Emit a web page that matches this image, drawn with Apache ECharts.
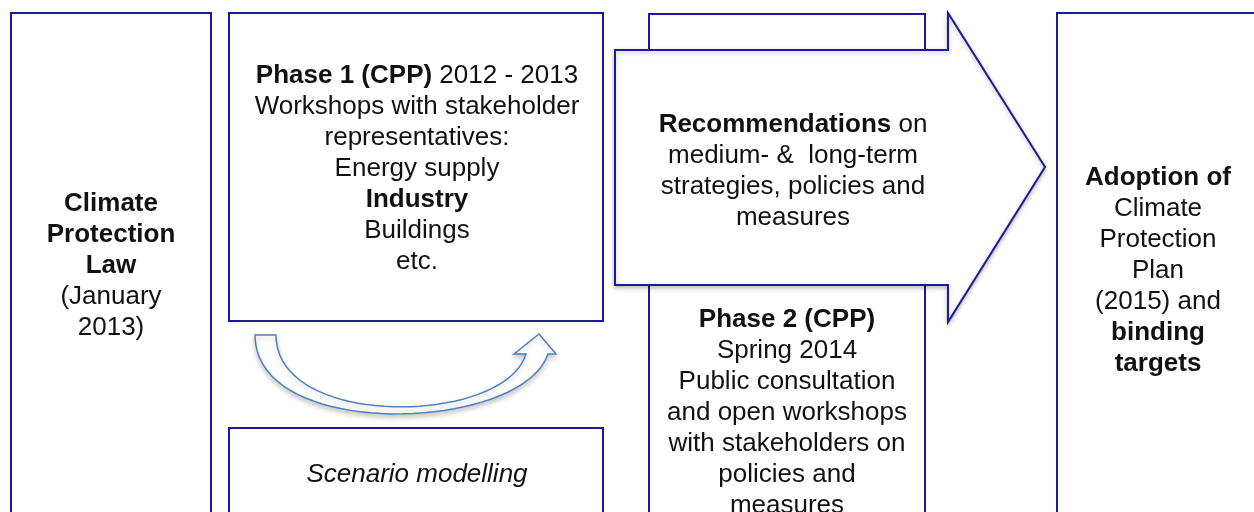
<!DOCTYPE html>
<html>
<head>
<meta charset="utf-8">
<script src="https://cdn.jsdelivr.net/npm/echarts@6/dist/echarts.min.js"></script>
<style>
  html, body { margin: 0; padding: 0; background: #fff; }
  #chart { width: 1254px; height: 512px; }
</style>
</head>
<body>
<div id="chart"></div>
<script>
// text of each block, {b|...} marks bold runs
const lawLines = ['{b|Climate}', '{b|Protection}', '{b|Law}', '(January', '2013)'];
const phase1Lines = ['{b|Phase 1 (CPP)} 2012 - 2013', 'Workshops with stakeholder', 'representatives:', 'Energy supply', '{b|Industry}', 'Buildings', 'etc.'];
const scenarioLines = ['Scenario modelling'];
const recommendLines = ['{b|Recommendations} on', 'medium- &  long-term', 'strategies, policies and', 'measures'];
const phase2Lines = ['{b|Phase 2 (CPP)}', 'Spring 2014', 'Public consultation', 'and open workshops', 'with stakeholders on', 'policies and', 'measures'];
const adoptionLines = ['{b|Adoption of}', 'Climate', 'Protection', 'Plan', '(2015) and', '{b|binding}', '{b|targets}'];

const chart = echarts.init(document.getElementById('chart'));

const navy = '#1a1a9a';
const font = 'Liberation Sans';

const box = (x, y, w, h) => ({
  type: 'rect',
  shape: { x: x, y: y, width: w, height: h },
  style: { fill: '#fff', stroke: navy, lineWidth: 2 },
});

const label = (lines, cx, cy, italic) => ({
  type: 'text',
  x: cx,
  y: cy,
  style: {
    text: lines.join('\n'),
    fontFamily: font,
    fontSize: 26,
    fontStyle: italic ? 'italic' : 'normal',
    lineHeight: 31,
    fill: '#111',
    align: 'center',
    verticalAlign: 'middle',
    rich: {
      b: { fontFamily: font, fontSize: 26, fontWeight: 'bold', lineHeight: 31, fill: '#111' },
    },
  },
  z: 10,
});

// cubic bezier sampled into points
const bez = (p0, c1, c2, p3, n) => {
  const pts = [];
  for (let i = 0; i <= n; i++) {
    const t = i / n, u = 1 - t;
    pts.push([
      u * u * u * p0[0] + 3 * u * u * t * c1[0] + 3 * u * t * t * c2[0] + t * t * t * p3[0],
      u * u * u * p0[1] + 3 * u * u * t * c1[1] + 3 * u * t * t * c2[1] + t * t * t * p3[1],
    ]);
  }
  return pts;
};

const outer = bez([255, 335], [255, 442], [522, 432], [548, 354], 40);
const inner = bez([276, 335], [276, 430], [505, 425], [526, 354], 40).reverse();
const curvePts = outer.concat([[556, 354], [539, 334], [514, 354]], inner);

const option = {
  backgroundColor: '#fff',
  graphic: {
    elements: [
      box(11, 13, 200, 520),
      box(229, 13, 374, 308),
      box(229, 428, 374, 110),
      box(649, 14, 276, 520),
      box(1057, 13, 220, 520),
      {
        type: 'polygon',
        shape: {
          points: [[615, 50], [948, 50], [948, 13], [1045, 167], [948, 322], [948, 285], [615, 285]],
        },
        style: {
          fill: '#fff', stroke: navy, lineWidth: 2,
          shadowBlur: 4, shadowOffsetY: 2, shadowColor: 'rgba(0,0,0,0.25)',
        },
        z: 5,
      },
      {
        type: 'polygon',
        shape: { points: curvePts },
        style: {
          fill: '#fff', stroke: '#4f81bd', lineWidth: 1.5,
          shadowBlur: 5, shadowOffsetY: 3, shadowColor: 'rgba(0,0,0,0.2)',
        },
        z: 5,
      },
      label(lawLines, 111, 266),
      label(phase1Lines, 417, 169),
      label(scenarioLines, 417, 475, true),
      label(recommendLines, 793, 171),
      label(phase2Lines, 787, 413),
      label(adoptionLines, 1158, 271),
    ],
  },
};

chart.setOption(option);
</script>
</body>
</html>
